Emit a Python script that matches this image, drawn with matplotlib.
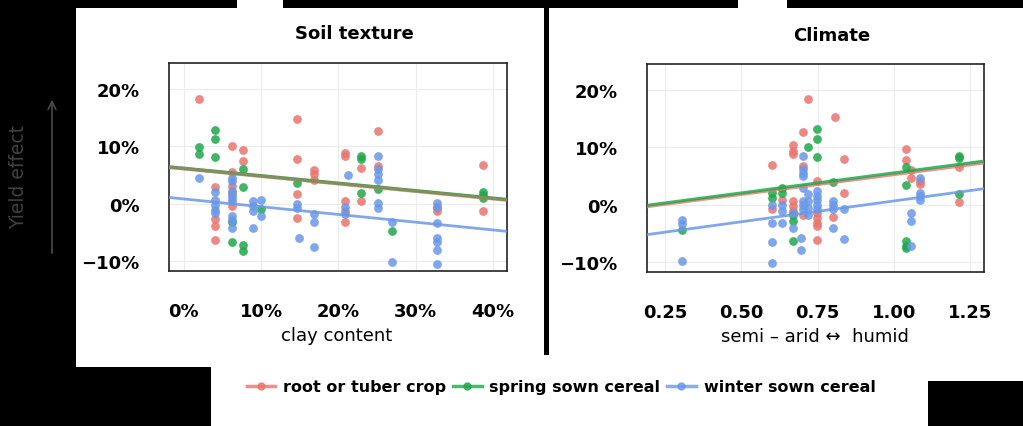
import matplotlib
matplotlib.use("Agg")
import matplotlib.pyplot as plt
from matplotlib.patches import Rectangle, FancyArrowPatch
from matplotlib.lines import Line2D

plt.rcParams['font.family'] = ['DejaVu Sans']

# ---- data (values in %) ----
groups = ['root or tuber crop', 'spring sown cereal', 'winter sown cereal']
colors = ['#E9756F', '#1FA84A', '#6A98E8']

# Soil texture panel: clay content (%) vs yield effect (%)
soil_root_x = [2.0, 4.0, 4.0, 4.0, 4.0, 6.2, 6.2, 6.2, 6.2, 6.2, 7.7, 7.7, 14.7, 14.7, 14.7, 14.7,
               16.9, 16.9, 16.9, 20.9, 20.9, 20.9, 20.9, 20.9, 22.9, 22.9, 25.1, 25.1, 32.8, 32.8, 38.7, 38.7]
soil_root_y = [18.2, 3.0, -2.6, -3.8, -6.3, 10.1, 5.5, 3.1, 1.9, -0.4, 9.4, 7.5, 14.8, 7.8, 1.7, -2.5,
               5.8, 5.1, 4.2, 8.8, 8.3, 0.5, -1.2, -3.1, 6.2, 0.4, 12.6, 6.5, -1.2, -0.8, 6.7, -1.2]
soil_spring_x = [2.0, 2.0, 4.0, 4.0, 4.0, 6.2, 6.2, 7.7, 7.7, 7.7, 7.7, 10.0, 14.7, 22.9, 22.9, 22.9,
                 25.1, 26.9, 38.7, 38.7, 38.7]
soil_spring_y = [9.9, 8.6, 12.8, 11.2, 8.2, -3.1, -6.6, 6.1, 3.0, -7.1, -8.2, -0.9, 3.6, 8.3, 7.8, 1.9,
                 2.6, -4.7, 2.0, 1.6, 1.0]
soil_winter_x = [2.0, 4.0, 4.0, 4.0, 4.0, 4.0, 6.2, 6.2, 6.2, 6.2, 6.2, 6.2, 6.2, 6.2, 6.2, 8.9, 8.9,
                 8.9, 8.9, 10.0, 10.0, 14.7, 14.7, 14.9, 16.9, 16.9, 16.9, 21.3, 20.9, 20.9, 25.1, 25.1,
                 25.1, 25.1, 25.1, 25.1, 26.9, 26.9, 32.8, 32.8, 32.8, 32.8, 32.8, 32.8, 32.8]
soil_winter_y = [4.5, 2.0, 0.7, -0.3, -1.0, -1.6, 4.5, 3.9, 2.2, 1.6, 1.0, 0.4, -2.2, -2.8, -4.2, 0.4, -0.4,
                 -1.2, -4.2, 0.7, -2.2, 0.0, -0.7, -6.0, -1.8, -3.1, -7.6, 5.0, -0.5, -1.8, 8.3, 6.0,
                 5.1, 4.2, 0.1, -0.7, -3.1, -10.1, 0.1, -0.5, -3.4, -6.0, -6.7, -8.1, -10.5]

# Climate panel: aridity index vs yield effect (%)
clim_root_x = [0.60, 0.60, 0.632, 0.67, 0.67, 0.67, 0.67, 0.67, 0.67, 0.703, 0.703, 0.703, 0.719, 0.747,
               0.747, 0.747, 0.747, 0.747, 0.747, 0.80, 0.808, 0.836, 0.836, 1.04, 1.04, 1.055, 1.055,
               1.086, 1.086, 1.213, 1.213]
clim_root_y = [7.0, -0.8, 0.9, 10.4, 9.4, 8.8, 0.6, -0.3, -1.1, 12.7, 6.8, -1.7, 18.4, 4.2,
               -1.4, -2.3, -3.1, -3.7, -6.1, -2.1, 15.2, 8.0, 2.0, 9.7, 7.8, 6.1, 4.7,
               4.1, 3.6, 6.5, 0.5]
clim_spring_x = [0.305, 0.60, 0.60, 0.632, 0.632, 0.67, 0.67, 0.67, 0.719, 0.747, 0.747, 0.747, 0.80,
                 1.04, 1.04, 1.04, 1.04, 1.04, 1.213, 1.213, 1.213]
clim_spring_y = [-4.4, 2.1, 1.2, 3.0, 2.1, -1.7, -2.9, -6.3, 10.1, 13.2, 11.4, 8.4, 4.0,
                 6.5, 3.4, -6.3, -7.2, -7.6, 8.5, 8.1, 1.8]
clim_winter_x = [0.305, 0.305, 0.305, 0.60, 0.60, 0.60, 0.60, 0.632, 0.632, 0.632, 0.67, 0.67, 0.703,
                 0.703, 0.703, 0.703, 0.703, 0.703, 0.703, 0.703, 0.695, 0.695, 0.719, 0.719, 0.719,
                 0.719, 0.747, 0.747, 0.747, 0.747, 0.747, 0.80, 0.80, 0.80, 0.80, 0.836, 0.836, 1.055,
                 1.055, 1.055, 1.086, 1.086, 1.086, 1.086]
clim_winter_y = [-2.7, -3.4, -9.7, 0.0, -3.1, -6.5, -10.2, 0.0, -1.1, -3.1, -1.4, -4.0, 8.5,
                 6.2, 5.6, 5.0, 2.9, 0.6, 0.0, -0.8, -5.8, -7.8, 1.8, 0.6, -0.6,
                 -1.7, 2.4, 1.5, 0.9, 0.0, -0.8, 0.6, 0.0, -0.8, -4.0, -0.7, -5.9, -1.4,
                 -2.9, -7.1, 4.7, 2.1, 1.5, 0.9]

# fitted lines: intercept and slope per group (root, spring, winter)
soil_fit_icpt = [6.1, 6.15, 0.84]
soil_fit_slope = [-0.131, -0.130, -0.135]
clim_fit_icpt = [-1.66, -1.42, -6.57]
clim_fit_slope = [6.87, 6.96, 7.23]

yticks = [-10, 0, 10, 20]
ytick_labels = ['\u221210%', '0%', '10%', '20%']
soil_xticks = [0, 10, 20, 30, 40]
soil_xtick_labels = ['0%', '10%', '20%', '30%', '40%']
clim_xticks = [0.25, 0.50, 0.75, 1.00, 1.25]
clim_xtick_labels = ['0.25', '0.50', '0.75', '1.00', '1.25']

# ---- layout in pixels ----
W, H = 1023, 427


def fx(px):
    return px / W


def fy(py):
    return 1 - py / H


def rect(x0, y0, x1, y1):
    return [fx(x0), fy(y1), (x1 - x0) / W, (y1 - y0) / H]


fig = plt.figure(figsize=(W / 100, H / 100), dpi=100, facecolor='black')

# white background pieces on black
for x0, y0, x1, y1 in [(76, 9, 544, 368), (549, 9, 1023, 382), (211, 362, 928, 427),
                       (237, 0, 283, 9), (738, 0, 787, 9), (544, 356, 549, 368)]:
    fig.add_artist(Rectangle((fx(x0), fy(y1)), (x1 - x0) / W, (y1 - y0) / H,
                             transform=fig.transFigure, facecolor='white', edgecolor='none', zorder=-5))

ax1 = fig.add_axes(rect(169, 64, 507, 272))
ax2 = fig.add_axes(rect(647, 65, 984, 273))

soil_x = [soil_root_x, soil_spring_x, soil_winter_x]
soil_y = [soil_root_y, soil_spring_y, soil_winter_y]
clim_x = [clim_root_x, clim_spring_x, clim_winter_x]
clim_y = [clim_root_y, clim_spring_y, clim_winter_y]

panels = [
    (ax1, soil_x, soil_y, soil_fit_icpt, soil_fit_slope, (-1.9, 41.8), soil_xticks, soil_xtick_labels,
     [1, 0, 2], [0.5, 1.0, 0.85], [2.6, 2.6, 2.0]),
    (ax2, clim_x, clim_y, clim_fit_icpt, clim_fit_slope, (0.19, 1.296), clim_xticks, clim_xtick_labels,
     [0, 1, 2], [0.8, 0.85, 0.85], [2.0, 2.2, 2.0]),
]

for ax, xs, ys, icpt, slope, xlim, xt, xtl, order, alphas, widths in panels:
    ax.set_facecolor('white')
    for i in range(3):
        ax.scatter(xs[i], ys[i], s=40, color=colors[i], alpha=0.85, linewidths=0, zorder=3)
    for i in order:
        lx = list(xlim)
        ly = [icpt[i] + slope[i] * v for v in lx]
        ax.plot(lx, ly, color=colors[i], lw=widths[i], alpha=alphas[i], zorder=4)
    ax.set_xlim(*xlim)
    ax.set_ylim(-11.7, 24.5)
    ax.set_xticks(xt)
    ax.set_xticklabels(xtl)
    ax.set_yticks(yticks)
    ax.set_yticklabels(ytick_labels)
    ax.tick_params(length=0, labelsize=13, colors='black')
    ax.tick_params(axis='x', pad=22)
    ax.tick_params(axis='y', pad=21)
    for lab in ax.get_xticklabels() + ax.get_yticklabels():
        lab.set_fontweight('bold')
    ax.grid(color='#ececec', lw=0.8, zorder=0)
    ax.set_axisbelow(True)
    for sp in ax.spines.values():
        sp.set_color('#222222')
        sp.set_linewidth(1.2)

# titles and axis labels
fig.text(fx(354), fy(34), 'Soil texture', ha='center', va='center', fontsize=13, fontweight='bold')
fig.text(fx(832), fy(36), 'Climate', ha='center', va='center', fontsize=13, fontweight='bold')
fig.text(fx(337), fy(336), 'clay content', ha='center', va='center', fontsize=13)
fig.text(fx(815), fy(337), 'semi \u2013 arid \u2194  humid', ha='center', va='center', fontsize=13)

# y label on the black strip with an arrow
fig.text(fx(19), fy(177), 'Yield effect', rotation=90, ha='center', va='center',
         fontsize=13.5, color='#404040')
fig.add_artist(FancyArrowPatch((fx(52), fy(257)), (fx(52), fy(98)), transform=fig.transFigure,
                               arrowstyle='->', mutation_scale=14, color='#4a4a4a', lw=1.2))

# legend
handles = [Line2D([0], [0], color=c, lw=2.5, alpha=0.8, marker='o', markersize=5) for c in colors]
leg = fig.legend(handles, groups, loc='center', bbox_to_anchor=(fx(561), fy(388)), ncol=3,
                 frameon=False, handlelength=1.8, handletextpad=0.5, columnspacing=0.4,
                 prop={'weight': 'bold', 'size': 11.5})

fig.savefig('out.png', dpi=100, facecolor='black')
